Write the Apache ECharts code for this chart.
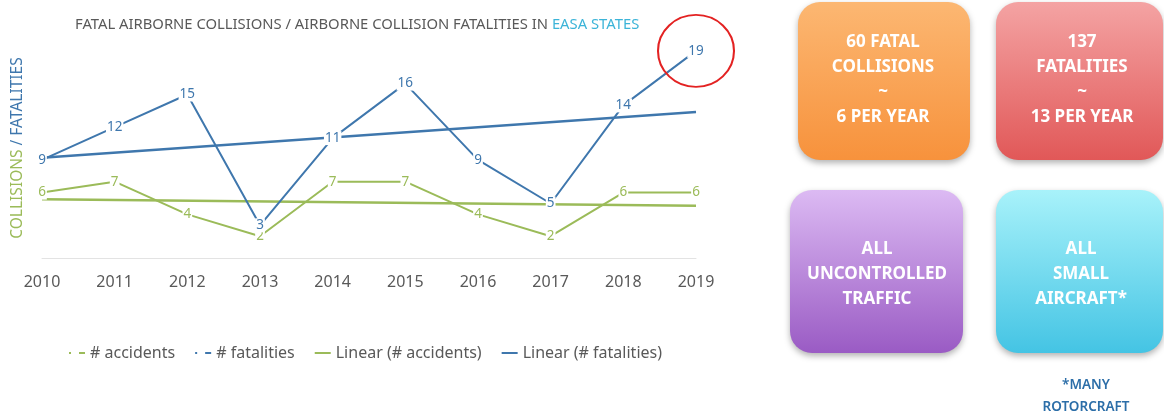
<!DOCTYPE html>
<html><head><meta charset="utf-8">
<script src="https://cdn.jsdelivr.net/npm/echarts@6/dist/echarts.min.js"></script>
<style>html,body{margin:0;padding:0;background:#fff}#c{width:1164px;height:412px}</style>
</head><body><div id="c"></div>
<script>
const years = ['2010','2011','2012','2013','2014','2015','2016','2017','2018','2019'];
const accidents = [6,7,4,2,7,7,4,2,6,6];
const fatalities = [9,12,15,3,11,16,9,5,14,19];
const trendAccidents = [5.4,null,null,null,null,null,null,null,null,4.8];
const trendFatalities = [9.2,null,null,null,null,null,null,null,null,13.4];

const GREEN = '#9bbb59', BLUE = '#3f77ad', GRAY = '#595959';
const FONT = 'Noto Sans';
const chart = echarts.init(document.getElementById('c'));

function box(x, y, w, h, c1, c2) {
  return {type:'rect', shape:{x:x, y:y, width:w, height:h, r:22},
    style:{fill:new echarts.graphic.LinearGradient(0,0,0,1,[{offset:0,color:c1},{offset:1,color:c2}]),
      shadowBlur:6, shadowColor:'rgba(0,0,0,0.3)', shadowOffsetY:3}};
}
function boxText(x, y, txt) {
  return {type:'text', x:x, y:y, style:{text:txt, fill:'#fff', font:'bold 17px "Noto Sans"', align:'center', verticalAlign:'top', lineHeight:25}};
}
const dataLabel = (color) => ({show:true, position:'inside', color:color, fontFamily:FONT, fontSize:13.5, backgroundColor:'#fff', padding:[0,1]});

chart.setOption({
  animation:false,
  title:{text:'{a|FATAL AIRBORNE COLLISIONS / AIRBORNE COLLISION FATALITIES IN }{b|EASA STATES}',
    left:70, top:12,
    textStyle:{fontWeight:'normal', rich:{a:{color:GRAY, fontFamily:FONT, fontSize:14.8, fontWeight:'normal'}, b:{color:'#3cb4d8', fontFamily:FONT, fontSize:14.8, fontWeight:'normal'}}}},
  grid:{left:42, right:468, top:40, bottom:154, containLabel:false},
  legend:{left:64, top:340, itemWidth:16, itemHeight:2, itemGap:20,
    textStyle:{color:GRAY, fontFamily:FONT, fontSize:16},
    data:[
      {name:'# accidents', icon:'path://M0,0h2v2h-2zM10,0h6v2h-6z'},
      {name:'# fatalities', icon:'path://M0,0h2v2h-2zM10,0h6v2h-6z'},
      {name:'Linear (# accidents)', icon:'rect'},
      {name:'Linear (# fatalities)', icon:'rect'}
    ]},
  xAxis:{type:'category', data:years, boundaryGap:false,
    axisLine:{lineStyle:{color:'#e3e3e3'}}, axisTick:{show:false},
    axisLabel:{color:GRAY, fontFamily:FONT, fontSize:16, margin:16}},
  yAxis:{type:'value', min:0, max:20, interval:5, show:false},
  series:[
    {name:'Linear (# accidents)', type:'line', data:trendAccidents, connectNulls:true, symbol:'none',
      lineStyle:{color:GREEN, width:2.5}, itemStyle:{color:GREEN}, z:1},
    {name:'Linear (# fatalities)', type:'line', data:trendFatalities, connectNulls:true, symbol:'none',
      lineStyle:{color:BLUE, width:2.5}, itemStyle:{color:BLUE}, z:1},
    {name:'# accidents', type:'line', data:accidents, symbol:'circle', symbolSize:0, showSymbol:true,
      lineStyle:{color:GREEN, width:2}, itemStyle:{color:GREEN}, label:dataLabel(GREEN), z:3},
    {name:'# fatalities', type:'line', data:fatalities, symbol:'circle', symbolSize:0, showSymbol:true,
      lineStyle:{color:BLUE, width:2}, itemStyle:{color:BLUE}, label:dataLabel(BLUE), z:3,
      markPoint:{symbol:'circle', symbolSize:[76,72], silent:true, label:{show:false},
        itemStyle:{color:'rgba(0,0,0,0)', borderColor:'#e32222', borderWidth:2},
        data:[{coord:['2019',19]}]}}
  ],
  graphic:[
    {type:'text', x:18, y:148, rotation:Math.PI/2,
      style:{text:'{g|COLLISIONS }{b|/ FATALITIES}', align:'center', verticalAlign:'middle',
        rich:{g:{fill:GREEN, font:'15.5px "Noto Sans"'}, b:{fill:BLUE, font:'15.5px "Noto Sans"'}}}},
    box(798, 2, 172, 158, '#fcb772', '#f7923c'),
    box(996, 2, 167, 158, '#f4a3a3', '#e15858'),
    box(790, 190, 173, 163, '#dcbaf3', '#9a5bc4'),
    box(996, 190, 167, 163, '#a8f2fa', '#44c4e4'),
    boxText(883, 30, '60 FATAL\nCOLLISIONS\n~\n6 PER YEAR'),
    boxText(1082, 30, '137\nFATALITIES\n~\n13 PER YEAR'),
    boxText(877, 237, 'ALL\nUNCONTROLLED\nTRAFFIC'),
    boxText(1081, 237, 'ALL\nSMALL\nAIRCRAFT*'),
    {type:'text', x:1086, y:374, style:{text:'*MANY\nROTORCRAFT', fill:'#2c6ea8', font:'600 13.5px "Noto Sans"', align:'center', verticalAlign:'top', lineHeight:22}}
  ]
});
</script></body></html>
